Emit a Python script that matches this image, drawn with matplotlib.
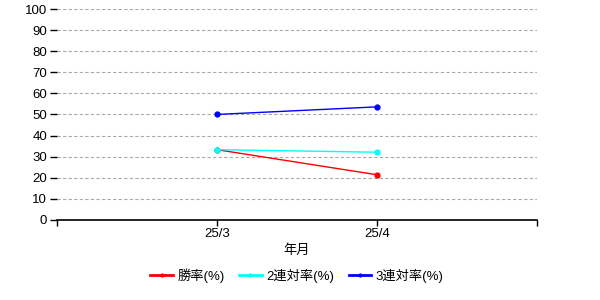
import matplotlib
matplotlib.use('Agg')
import matplotlib.pyplot as plt
from matplotlib.lines import Line2D
import numpy as np

plt.rcParams['font.family'] = ['Liberation Sans', 'Noto Sans CJK JP', 'DejaVu Sans']

months = ['25/3', '25/4']
win = [33.3, 21.4]
top2 = [33.3, 32.1]
top3 = [50.0, 53.6]
names = ['勝率(%)', '2連対率(%)', '3連対率(%)']
colors = ['red', 'cyan', 'blue']

fig = plt.figure(figsize=(6, 3), dpi=100)
ax = fig.add_axes([0.095, 0.267, 0.8, 0.703])

x = np.arange(1, len(months) + 1)
handles = []
for vals, name, col in zip([win, top2, top3], names, colors):
    ax.plot(x, vals, color=col, lw=1, marker='o', ms=3.5)
    handles.append(Line2D([], [], color=col, lw=2, marker='o', ms=2, label=name))

ax.set_xlim(0, 3)
ax.set_ylim(0, 100)
ax.set_yticks(np.arange(0, 101, 10))
ax.set_xticks([0, 1, 2, 3])
ax.set_xticklabels([''] + months + [''])
ax.yaxis.grid(True, color='#aaaaaa', ls=(0, (3, 2)), lw=0.8)
ax.set_axisbelow(True)
for s in ['top', 'right', 'left']:
    ax.spines[s].set_visible(False)
ax.spines['bottom'].set_linewidth(1.2)
ax.tick_params(axis='y', length=5, width=1, labelsize=9.5, pad=2)
ax.tick_params(axis='x', length=4, width=1, labelsize=9.5, pad=2)
ax.set_xlabel('年月', fontsize=9.5, labelpad=3)

ax.legend(handles=handles, loc='center', bbox_to_anchor=(0.5, -0.265), ncol=3,
          frameon=False, fontsize=9.5, handlelength=1.7, columnspacing=1.1,
          handletextpad=0.35)

fig.savefig('out.png', dpi=100)
